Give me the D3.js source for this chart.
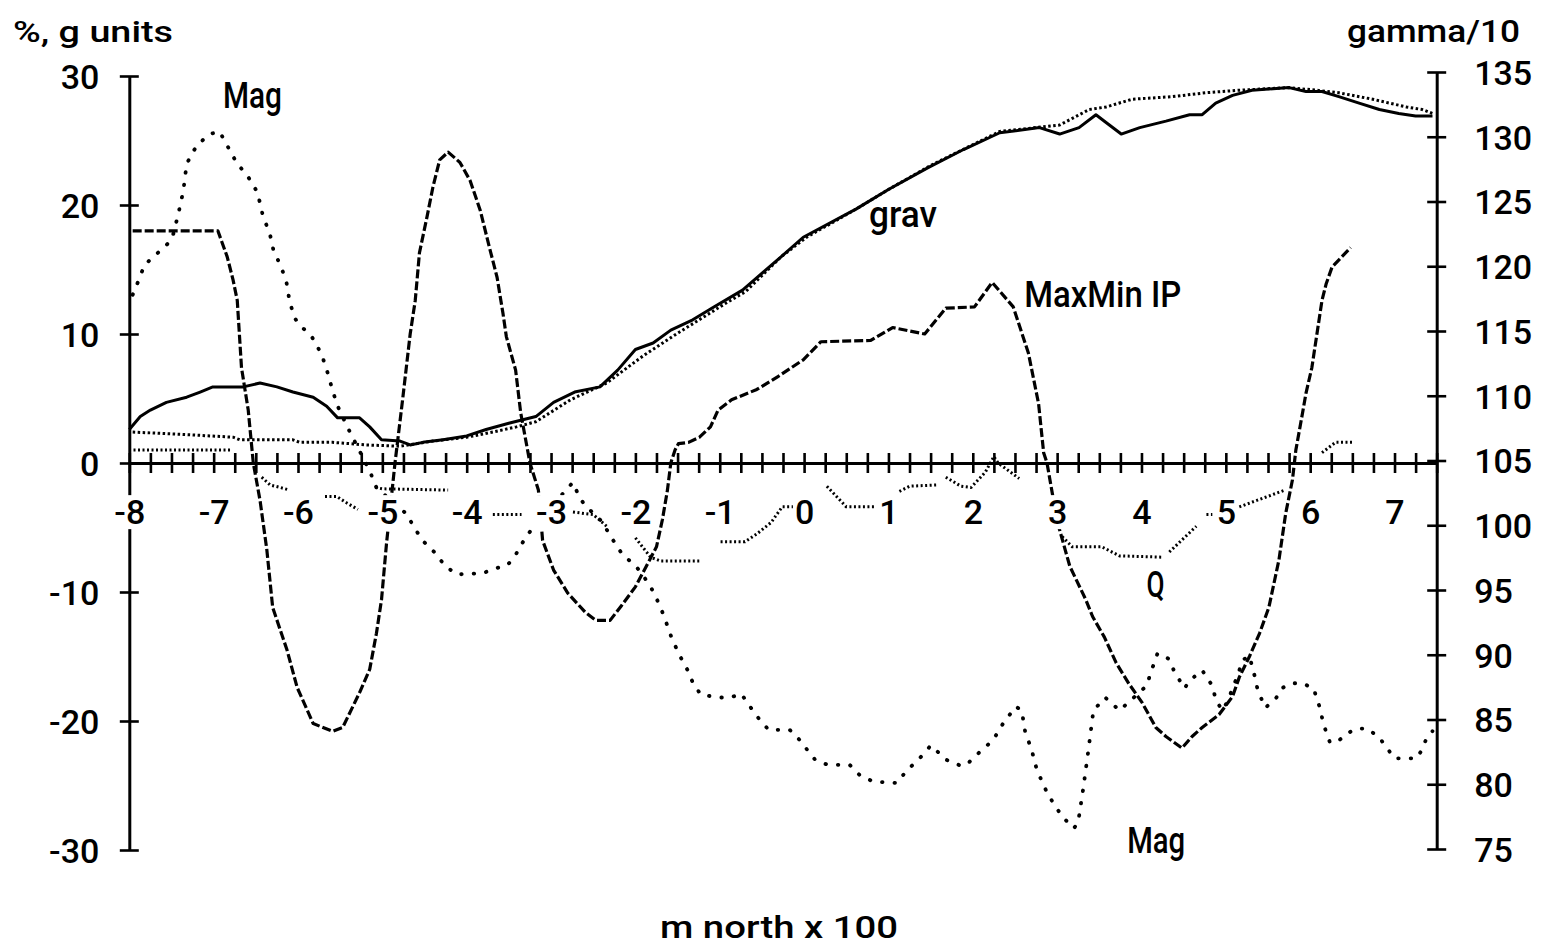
<!DOCTYPE html>
<html>
<head>
<meta charset="utf-8">
<script src="https://cdn.jsdelivr.net/npm/d3@7"></script>
<style>
    body { margin: 0; background: #fff; }
    svg { display: block; }
</style>
</head>
<body>
<svg width="1541" height="950"></svg>
<script>
// values: x in m north x 100, left axis in % / g units, right axis in gamma/10
const magData = [
    [-7.96, 117.8], [-7.89, 118.9], [-7.82, 120.1], [-7.55, 121.7], [-7.49, 122.2], [-7.42, 124.0],
    [-7.36, 125.8], [-7.32, 127.9], [-7.24, 128.9], [-7.17, 129.5], [-7.05, 130.2], [-6.93, 130.4],
    [-6.72, 127.9], [-6.61, 127.1], [-6.48, 125.7], [-6.42, 124.0], [-6.33, 122.4], [-6.29, 121.2],
    [-6.21, 120.1], [-6.14, 118.9], [-6.10, 117.3], [-6.04, 116.0], [-5.97, 115.4], [-5.84, 114.6],
    [-5.72, 113.2], [-5.65, 111.8], [-5.59, 110.4], [-5.53, 109.2], [-5.40, 107.4], [-5.15, 104.2],
    [-5.07, 102.9], [-4.70, 100.8], [-4.64, 100.0], [-4.52, 98.8], [-4.38, 97.9], [-4.26, 96.9],
    [-4.12, 96.2], [-3.81, 96.3], [-3.64, 96.7], [-3.52, 96.9], [-3.43, 97.6], [-3.29, 99.2],
    [-2.80, 102.9], [-2.74, 103.3], [-2.66, 102.1], [-2.59, 101.5], [-2.40, 100.3], [-2.26, 98.8],
    [-2.15, 97.7], [-2.00, 96.9], [-1.83, 95.4], [-1.71, 93.8], [-1.64, 92.6], [-1.57, 91.3],
    [-1.48, 90.0], [-1.38, 88.8], [-1.31, 87.7], [-1.22, 86.9], [-0.99, 86.7], [-0.87, 86.7],
    [-0.75, 87.0], [-0.68, 86.4], [-0.61, 85.7], [-0.54, 85.1], [-0.42, 84.2], [-0.17, 84.2],
    [-0.05, 83.4], [0.02, 82.8], [0.13, 81.9], [0.28, 81.5], [0.54, 81.5], [0.66, 80.7],
    [0.82, 80.2], [1.10, 80.1], [1.21, 81.0], [1.43, 82.4], [1.50, 83.0], [1.57, 82.6],
    [1.68, 81.9], [1.87, 81.4], [1.94, 81.6], [2.10, 82.6], [2.24, 83.4], [2.36, 84.7],
    [2.51, 86.0], [2.58, 85.7], [2.62, 84.1], [2.70, 82.6], [2.76, 81.1], [2.87, 79.5],
    [2.94, 78.7], [3.06, 77.5], [3.20, 76.6], [3.25, 77.1], [3.31, 79.7], [3.37, 82.6],
    [3.43, 85.7], [3.57, 86.7], [3.74, 85.7], [4.06, 87.6], [4.12, 88.8], [4.19, 90.1],
    [4.32, 89.7], [4.39, 88.7], [4.51, 87.4], [4.57, 88.0], [4.72, 88.8], [4.83, 87.7],
    [4.89, 86.4], [4.96, 85.7], [5.02, 86.4], [5.14, 88.4], [5.20, 89.6], [5.28, 89.9],
    [5.34, 88.4], [5.38, 87.2], [5.47, 85.9], [5.60, 86.7], [5.66, 87.4], [5.78, 87.8],
    [5.91, 87.8], [6.04, 87.4], [6.11, 86.0], [6.16, 84.6], [6.23, 83.3], [6.31, 83.2],
    [6.43, 83.9], [6.56, 84.3], [6.68, 84.3], [6.82, 83.6], [7.00, 82.0], [7.14, 82.0],
    [7.26, 82.0], [7.32, 82.6], [7.37, 83.4], [7.45, 84.1]
];

const gravObs = [
    [-8.00, 2.6], [-7.87, 3.6], [-7.75, 4.1], [-7.56, 4.7], [-7.32, 5.1], [-7.16, 5.5], [-7.01, 5.9],
    [-6.65, 5.9], [-6.45, 6.2], [-6.25, 5.9], [-6.06, 5.5], [-5.82, 5.1], [-5.66, 4.4], [-5.53, 3.5],
    [-5.27, 3.5], [-5.15, 2.8], [-5.01, 1.8], [-4.79, 1.7], [-4.67, 1.4], [-4.52, 1.6], [-4.28, 1.8],
    [-4.00, 2.1], [-3.77, 2.6], [-3.49, 3.1], [-3.18, 3.6], [-2.97, 4.7], [-2.72, 5.5], [-2.42, 5.9],
    [-2.21, 7.2], [-2.00, 8.8], [-1.79, 9.3], [-1.58, 10.3], [-1.32, 11.1], [-1.07, 12.1], [-0.73, 13.4],
    [-0.27, 16.0], [-0.01, 17.5], [0.62, 19.7], [1.00, 21.2], [1.47, 22.9], [1.89, 24.3], [2.32, 25.6],
    [2.79, 26.0], [3.03, 25.5], [3.26, 26.0], [3.46, 27.0], [3.58, 26.4], [3.76, 25.5], [3.98, 26.0],
    [4.29, 26.5], [4.57, 27.0], [4.72, 27.0], [4.88, 27.9], [5.08, 28.5], [5.31, 28.9], [5.75, 29.1],
    [5.95, 28.8], [6.14, 28.8], [6.34, 28.4], [6.58, 27.9], [6.82, 27.4], [7.05, 27.1], [7.25, 26.9],
    [7.45, 26.9]
];

const gravCalc = [
    [-7.96, 2.4], [-7.32, 2.2], [-6.77, 2.0], [-6.69, 1.8], [-6.06, 1.8], [-5.98, 1.6], [-5.59, 1.6],
    [-5.19, 1.4], [-4.79, 1.3], [-4.40, 1.7], [-4.00, 2.0], [-3.69, 2.4], [-3.41, 2.8], [-3.18, 3.2],
    [-2.77, 4.9], [-2.34, 6.2], [-1.91, 8.3], [-1.49, 10.1], [-0.90, 12.5], [-0.69, 13.3], [-0.27, 16.0],
    [0.03, 17.5], [0.62, 19.7], [1.00, 21.2], [1.51, 23.1], [2.32, 25.7], [3.03, 26.2], [3.38, 27.4],
    [3.58, 27.6], [3.89, 28.2], [4.37, 28.4], [4.76, 28.7], [5.16, 28.9], [5.75, 29.1], [6.07, 28.9],
    [6.34, 28.7], [6.74, 28.2], [7.14, 27.6], [7.33, 27.4], [7.45, 27.1]
];

const ipData = [
    [-7.96, 18.0], [-6.95, 18.0], [-6.84, 16.0], [-6.77, 14.2], [-6.72, 12.6], [-6.67, 7.4], [-6.59, 4.1],
    [-6.53, 0], [-6.45, -2.9], [-6.37, -6.7], [-6.30, -11.2], [-6.13, -14.5], [-6.01, -17.4], [-5.82, -20.2],
    [-5.59, -20.8], [-5.47, -20.5], [-5.27, -17.8], [-5.15, -16.0], [-5.07, -13.2], [-5.01, -10.6],
    [-4.95, -6.2], [-4.85, 0], [-4.76, 4.9], [-4.67, 10.0], [-4.61, 12.6], [-4.56, 16.3], [-4.47, 19.1],
    [-4.40, 21.4], [-4.32, 23.5], [-4.22, 24.1], [-4.08, 23.3], [-3.96, 21.9], [-3.84, 19.6], [-3.73, 16.7],
    [-3.64, 14.4], [-3.57, 11.6], [-3.53, 9.8], [-3.42, 7.2], [-3.36, 3.9], [-3.25, 0], [-3.15, -2.1],
    [-3.10, -6.0], [-2.97, -8.3], [-2.80, -10.1], [-2.59, -11.6], [-2.47, -12.2], [-2.30, -12.2],
    [-2.17, -11.1], [-2.00, -9.6], [-1.83, -7.5], [-1.75, -6.5], [-1.68, -4.4], [-1.62, -2.1], [-1.58, 0],
    [-1.53, 1.0], [-1.49, 1.5], [-1.37, 1.6], [-1.24, 2.0], [-1.11, 2.8], [-1.02, 4.1], [-0.86, 4.9],
    [-0.56, 5.7], [-0.31, 6.7], [-0.01, 8.0], [0.20, 9.4], [0.79, 9.5], [1.05, 10.5], [1.43, 10.0],
    [1.68, 12.0], [2.02, 12.1], [2.23, 14.0], [2.48, 12.1], [2.66, 8.5], [2.78, 4.6], [2.84, 0.8],
    [2.88, 0], [3.00, -4.5], [3.15, -8.0], [3.34, -10.6], [3.42, -11.9], [3.56, -13.5], [3.70, -15.5],
    [3.85, -17.1], [4.01, -18.6], [4.17, -20.5], [4.29, -21.2], [4.48, -22.1], [4.60, -21.2], [4.72, -20.5],
    [4.92, -19.5], [5.08, -18.1], [5.16, -16.6], [5.28, -15.0], [5.40, -13.2], [5.51, -11.2], [5.63, -7.5],
    [5.71, -3.9], [5.79, -1.3], [5.83, 1.0], [5.91, 3.9], [5.95, 5.4], [6.02, 7.4], [6.08, 10.0],
    [6.14, 12.6], [6.19, 13.9], [6.26, 15.2], [6.48, 16.7]
];

// null = break in the plotted line
const qData = [
    [-7.95, 1.0], [-6.80, 1.0], null,
    [-6.43, -1.1], [-6.33, -1.7], [-6.21, -1.9], [-6.10, -2.1], null,
    [-5.68, -2.6], [-5.54, -2.6], [-5.42, -3.1], [-5.29, -3.6], null,
    [-5.08, -1.9], [-5.00, -2.0], [-4.22, -2.1], null,
    [-3.69, -4.0], [-3.35, -4.0], null,
    [-2.74, -3.8], [-2.50, -4.0], [-2.34, -4.9], null,
    [-2.00, -5.8], [-1.82, -7.3], [-1.70, -7.6], [-1.24, -7.6], null,
    [-0.99, -6.1], [-0.70, -6.1], [-0.56, -5.5], [-0.39, -4.6], [-0.26, -3.4], [-0.12, -3.4], null,
    [0.27, -1.8], [0.50, -3.4], [0.84, -3.4], null,
    [1.13, -2.2], [1.25, -1.8], [1.58, -1.7], null,
    [1.68, -1.1], [1.86, -1.8], [1.98, -1.9], [2.15, -0.7], [2.25, 0.5], [2.30, 0], [2.55, -1.2], null,
    [3.06, -5.7], [3.18, -6.5], [3.53, -6.5], [3.74, -7.2], [4.25, -7.3], null,
    [4.33, -6.9], [4.65, -4.9], null,
    [4.77, -4.0], [4.84, -4.0], null,
    [5.16, -3.4], [5.70, -2.1], null,
    [6.14, 0.8], [6.30, 1.6], [6.50, 1.6]
];

const leftTicks = [-30, -20, -10, 0, 10, 20, 30];
const rightTicks = [75, 80, 85, 90, 95, 100, 105, 110, 115, 120, 125, 130, 135];
const xTicks = d3.range(-8, 7.51, 0.25);

const font = "Roboto, 'DejaVu Sans', sans-serif";

let svg = d3.select("svg");
svg.append("rect").attr("width", 1541).attr("height", 950).attr("fill", "#fff");

let xScale = d3.scaleLinear().domain([-8, 7.5]).range([129.3, 1436.7]);
let yLeft = d3.scaleLinear().domain([-30, 30]).range([850, 76]);
let yRight = d3.scaleLinear().domain([75, 135]).range([849, 72]);

let styleAxis = (g) => {
    g.attr("font-family", null).attr("font-size", null);
    g.select(".domain").attr("stroke", "#000").attr("stroke-width", 3);
    g.selectAll(".tick line").attr("stroke", "#000").attr("stroke-width", 2.6);
    g.selectAll(".tick text")
        .attr("fill", "#000")
        .style("font-family", font)
        .style("font-weight", 500)
        .style("font-size", "34px");
};

let genAxes = () => {
    let leftAxis = d3.axisLeft(yLeft)
                    .tickValues(leftTicks)
                    .tickFormat((d) => String(d))
                    .tickSizeOuter(0);
    let gl = svg.append("g")
            .attr("transform", "translate(" + xScale(-8) + ", 0)")
            .call(leftAxis);
    styleAxis(gl);
    gl.selectAll(".tick line").attr("x1", -9.5).attr("x2", 9.5);
    gl.selectAll(".tick text").attr("x", -30).attr("dy", "0.36em");

    let rightAxis = d3.axisRight(yRight)
                    .tickValues(rightTicks)
                    .tickFormat((d) => String(d))
                    .tickSizeOuter(0);
    let gr = svg.append("g")
            .attr("transform", "translate(" + xScale(7.5) + ", 0)")
            .call(rightAxis);
    styleAxis(gr);
    gr.selectAll(".tick line").attr("x1", -9.5).attr("x2", 9.5);
    gr.selectAll(".tick text").attr("x", 37.5).attr("dy", "0.36em");

    let bottomAxis = d3.axisBottom(xScale)
                    .tickValues(xTicks)
                    .tickFormat((d) => Number.isInteger(d) ? String(d) : "")
                    .tickSizeOuter(0);
    let gb = svg.append("g")
            .attr("transform", "translate(0, " + yLeft(0) + ")")
            .call(bottomAxis);
    styleAxis(gb);
    gb.selectAll(".tick line").attr("y1", -10).attr("y2", 10);
    gb.selectAll(".tick text").attr("y", 37);

    // the old plotter blanked the area behind each x label
    gb.selectAll(".tick").each(function(d) {
        if (!Number.isInteger(d)) return;
        let tick = d3.select(this);
        let box = tick.select("text").node().getBBox();
        tick.insert("rect", "text")
            .attr("x", box.x - 2)
            .attr("y", box.y + 3)
            .attr("width", box.width + 4)
            .attr("height", box.height - 6)
            .attr("fill", "#fff");
    });
};

let drawLine = (data, yScale, dash, width, cap) => {
    let line = d3.line()
                .defined((d) => d !== null)
                .x((d) => xScale(d[0]))
                .y((d) => yScale(d[1]));
    svg.append("path")
        .datum(data)
        .attr("d", line)
        .attr("fill", "none")
        .attr("stroke", "#000")
        .attr("stroke-width", width)
        .attr("stroke-linejoin", "round")
        .attr("stroke-linecap", cap)
        .attr("stroke-dasharray", dash);
};

let genLines = () => {
    drawLine(gravObs, yLeft, null, 3, "butt");
    drawLine(gravCalc, yLeft, "2.5,2.5", 3, "butt");
    drawLine(ipData, yLeft, "9,3", 3.2, "butt");
    drawLine(qData, yLeft, "2,2.5", 3, "butt");
    drawLine(magData, yRight, "0.5,12", 3.8, "round");
};

let addText = (txt, x, y, size, len) => {
    let t = svg.append("text")
        .attr("x", x)
        .attr("y", y)
        .attr("fill", "#000")
        .style("font-family", font)
        .style("font-weight", 500)
        .style("font-size", size + "px")
        .text(txt);
    if (len) {
        t.attr("textLength", len).attr("lengthAdjust", "spacingAndGlyphs");
    }
};

let genLabels = () => {
    addText("%, g units", 13, 42, 30, 160);
    addText("gamma/10", 1347, 42, 31, 173);
    addText("m north x 100", 660, 938, 31, 238);

    // series labels, placed in data units
    addText("Mag", xScale(-6.89), yLeft(27.5), 36, 59);
    addText("grav", xScale(0.77), yLeft(18.3), 36, 68);
    addText("MaxMin IP", xScale(2.61), yLeft(12.1), 36, 157);
    addText("Q", xScale(4.06), yLeft(-10.4), 36, 18);
    addText("Mag", xScale(3.83), yLeft(-30.2), 36, 58);
};

genLines();
genAxes();
genLabels();
</script>
</body>
</html>
